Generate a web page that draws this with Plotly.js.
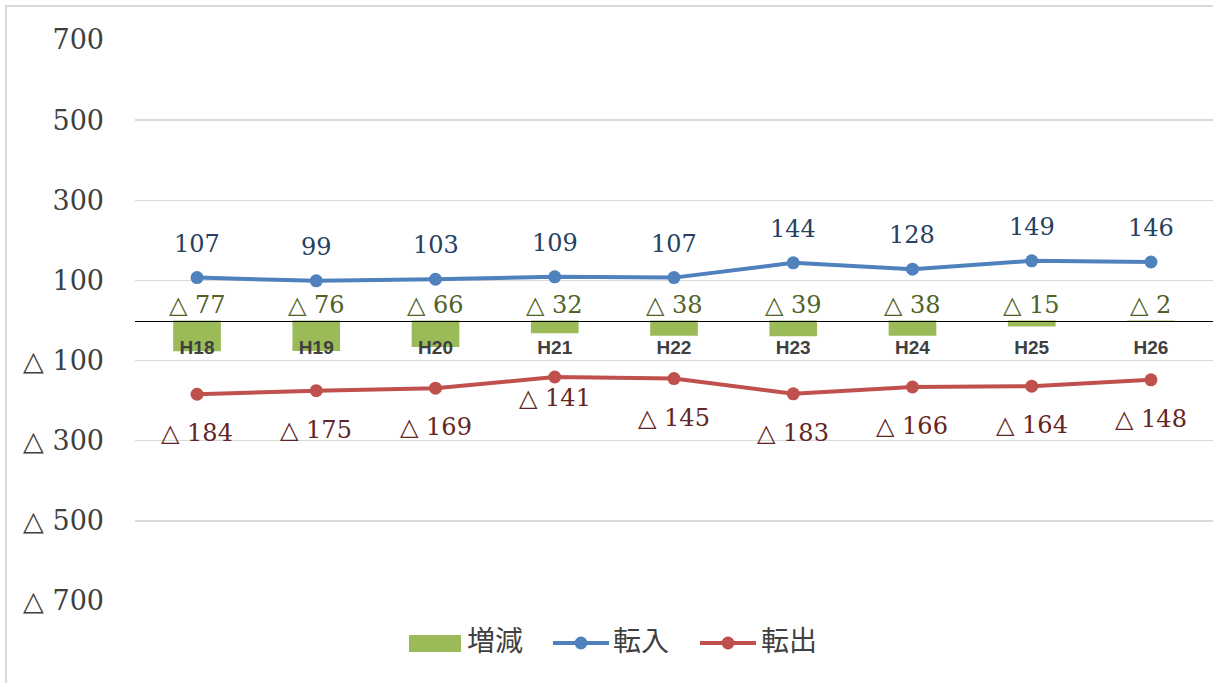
<!DOCTYPE html>
<html>
<head>
<meta charset="utf-8">
<script src="https://cdn.plot.ly/plotly-3.0.1.min.js"></script>
<style>html,body{margin:0;padding:0;background:#fff;}#chart{width:1213px;height:683px;}</style>
</head>
<body>
<div id="chart"></div>
<script>
const categories = ['H18','H19','H20','H21','H22','H23','H24','H25','H26'];
const change = [-77, -76, -66, -32, -38, -39, -38, -15, -2];   // 増減
const inflow = [107, 99, 103, 109, 107, 144, 128, 149, 146];   // 転入
const outflow = [-184, -175, -169, -141, -145, -183, -166, -164, -148]; // 転出
const yTicks = [-700, -500, -300, -100, 100, 300, 500, 700];
const seriesNames = ['増減', '転入', '転出'];

const fmt = v => (v < 0 ? '△ ' + Math.abs(v) : String(v));
const serif = '"DejaVu Serif", "Liberation Serif", serif';
const GREEN = '#9bbb59', BLUE = '#4f81bd', RED = '#c0504d';

const traces = [
  {type:'bar', name:seriesNames[0], x:categories, y:change, width:0.4,
   marker:{color:GREEN}, hoverinfo:'skip'},
  {type:'scatter', mode:'lines+markers', name:seriesNames[1], x:categories, y:inflow,
   line:{color:BLUE, width:4}, marker:{color:BLUE, size:13}},
  {type:'scatter', mode:'lines+markers', name:seriesNames[2], x:categories, y:outflow,
   line:{color:RED, width:4}, marker:{color:RED, size:13}}
];

const annotations = [];
categories.forEach((c, i) => {
  annotations.push({x:c, y:0, text:fmt(change[i]), showarrow:false, yanchor:'middle', yshift:16,
    font:{family:serif, size:24, color:'#4f6228'}});
  annotations.push({x:c, y:inflow[i], text:fmt(inflow[i]), showarrow:false, yanchor:'middle', yshift:34,
    font:{family:serif, size:24, color:'#254061'}});
  annotations.push({x:c, y:outflow[i], text:fmt(outflow[i]), showarrow:false, yanchor:'middle', yshift:(i===3 ? -21 : -39),
    font:{family:serif, size:24, color:'#632523'}});
});

// custom legend (pixel -> paper helpers)
const L = 135, T = 40, PW = 1078, PH = 561;
const px = x => (x - L) / PW;
const py = y => (T + PH - y) / PH;
const legFont = {family:'"Noto Sans CJK JP", sans-serif', size:28, color:'#404040'};
const shapes = [
  {type:'rect', xref:'paper', yref:'paper', x0:px(6), x1:px(1300), y0:py(800), y1:py(6),
    line:{color:'#d9d9d9', width:2}, fillcolor:'rgba(0,0,0,0)', layer:'below'},
  {type:'rect', xref:'paper', yref:'paper', x0:px(409), x1:px(461), y0:py(652), y1:py(635),
    line:{width:0}, fillcolor:GREEN},
  {type:'line', xref:'paper', yref:'paper', x0:px(553), x1:px(609), y0:py(643), y1:py(643),
    line:{color:BLUE, width:4}},
  {type:'circle', xref:'paper', yref:'paper', x0:px(574.5), x1:px(587.5), y0:py(649.5), y1:py(636.5),
    line:{width:0}, fillcolor:BLUE},
  {type:'line', xref:'paper', yref:'paper', x0:px(700), x1:px(756), y0:py(643), y1:py(643),
    line:{color:RED, width:4}},
  {type:'circle', xref:'paper', yref:'paper', x0:px(721.5), x1:px(734.5), y0:py(649.5), y1:py(636.5),
    line:{width:0}, fillcolor:RED}
];
[[465, seriesNames[0]], [611, seriesNames[1]], [759, seriesNames[2]]].forEach(([x, t]) => {
  annotations.push({xref:'paper', yref:'paper', x:px(x), y:py(639), xanchor:'left', yanchor:'middle',
    text:t, showarrow:false, font:legFont});
});

const layout = {
  width:1213, height:683,
  margin:{l:L, r:0, t:T, b:683 - T - PH},
  paper_bgcolor:'#fff', plot_bgcolor:'#fff',
  showlegend:false,
  xaxis:{type:'category', anchor:'free', position:0.5, showline:true, linecolor:'#000', linewidth:1.5,
    showgrid:false, zeroline:false, ticks:'', ticklabelstandoff:9,
    tickfont:{family:'"Liberation Sans", Arial, sans-serif', size:19, color:'#404040', weight:'bold'}},
  yaxis:{range:[-700, 700], tickvals:yTicks, ticktext:yTicks.map(fmt), showgrid:true,
    gridcolor:'#d9d9d9', gridwidth:1.5, zeroline:false, ticks:'', ticklabelstandoff:30,
    tickfont:{family:serif, size:27, color:'#404040'}},
  annotations:annotations,
  shapes:shapes
};

Plotly.newPlot('chart', traces, layout, {displayModeBar:false, staticPlot:true});
</script>
</body>
</html>
